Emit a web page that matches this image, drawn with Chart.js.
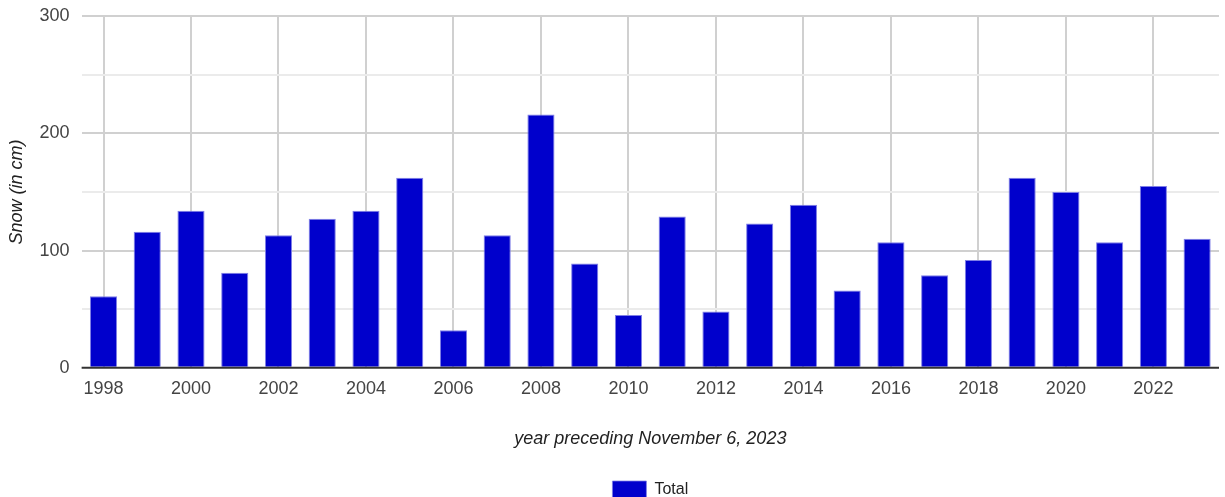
<!DOCTYPE html>
<html>
<head>
<meta charset="utf-8">
<script src="https://cdn.jsdelivr.net/npm/chart.js@4"></script>
<style>
  html, body { margin: 0; padding: 0; background: #fff; }
  #wrap { width: 1225px; height: 497px; }
</style>
</head>
<body>
<div id="wrap"><canvas id="myChart" width="1225" height="497"></canvas></div>
<script>
const years = [
  "1998", "1999", "2000", "2001", "2002", "2003", "2004", "2005", "2006",
  "2007", "2008", "2009", "2010", "2011", "2012", "2013", "2014", "2015",
  "2016", "2017", "2018", "2019", "2020", "2021", "2022", "2023",
];
const totalSnow = [
  61, 116, 134, 81, 113, 127, 134, 162, 32,
  113, 216, 89, 45, 129, 48, 123, 139, 66,
  107, 79, 92, 162, 150, 107, 155, 110,
];
const yTicks = [0, 100, 200, 300];

const font = "'Liberation Sans', Arial, sans-serif";
const ctx = document.getElementById("myChart").getContext("2d");

// dark zero line drawn over the bars
const baseline = {
  id: "baseline",
  afterDatasetsDraw(chart) {
    const { ctx, chartArea, scales } = chart;
    const y = scales.y.getPixelForValue(0);
    ctx.save();
    ctx.strokeStyle = "#333333";
    ctx.lineWidth = 2;
    ctx.beginPath();
    ctx.moveTo(chartArea.left, y);
    ctx.lineTo(chartArea.right, y);
    ctx.stroke();
    ctx.restore();
  },
};

// centre the legend under the plot area rather than the whole canvas
const legendUnderPlot = {
  id: "legendUnderPlot",
  afterLayout(chart) {
    if (chart.legend) {
      chart.legend.left = chart.chartArea.left;
      chart.legend.right = chart.chartArea.right;
    }
  },
};

new Chart(ctx, {
  type: "bar",
  data: {
    labels: years,
    datasets: [
      {
        label: "Total",
        data: totalSnow,
        backgroundColor: "#0000cc",
        borderColor: "#7f7fe6",
        borderWidth: { top: 1, left: 1, right: 1, bottom: 0 },
        categoryPercentage: 1,
        barPercentage: 0.62,
      },
    ],
  },
  options: {
    responsive: false,
    animation: false,
    layout: { padding: { top: 16, right: 6, left: 6, bottom: -12 } },
    plugins: {
      tooltip: { enabled: false },
      legend: {
        position: "bottom",
        labels: {
          color: "#222",
          boxWidth: 34,
          boxHeight: 18,
          padding: 10,
          font: { family: font, size: 16 },
        },
      },
    },
    scales: {
      x: {
        border: { display: false },
        grid: {
          offset: false,
          drawTicks: false,
          lineWidth: 2,
          color: (c) => (c.index % 2 === 0 ? "#d0d0d0" : "rgba(0,0,0,0)"),
        },
        ticks: {
          autoSkip: false,
          maxRotation: 0,
          padding: 10,
          color: "#444",
          font: { family: font, size: 18 },
          callback: function (v, i) {
            return i % 2 === 0 ? years[i] : "";
          },
        },
        title: {
          display: true,
          text: "year preceding November 6, 2023",
          color: "#222",
          font: { family: font, size: 18, style: "italic" },
          padding: { top: 19, bottom: 21 },
        },
      },
      y: {
        min: 0,
        max: 300,
        border: { display: false },
        afterFit: (s) => {
          s.paddingTop = 0;
        },
        grid: {
          drawTicks: false,
          lineWidth: 2,
          color: (c) => {
            const v = c.tick.value;
            if (v === 0) return "rgba(0,0,0,0)";
            return yTicks.includes(v) ? "#d0d0d0" : "#ebebeb";
          },
        },
        ticks: {
          stepSize: 50,
          padding: 12,
          color: "#444",
          font: { family: font, size: 18 },
          callback: (v) => (yTicks.includes(v) ? String(v) : ""),
        },
        title: {
          display: true,
          text: "Snow (in cm)",
          color: "#222",
          font: { family: font, size: 18, style: "italic" },
          padding: { top: 0, bottom: 0 },
        },
      },
    },
  },
  plugins: [baseline, legendUnderPlot],
});
</script>
</body>
</html>
